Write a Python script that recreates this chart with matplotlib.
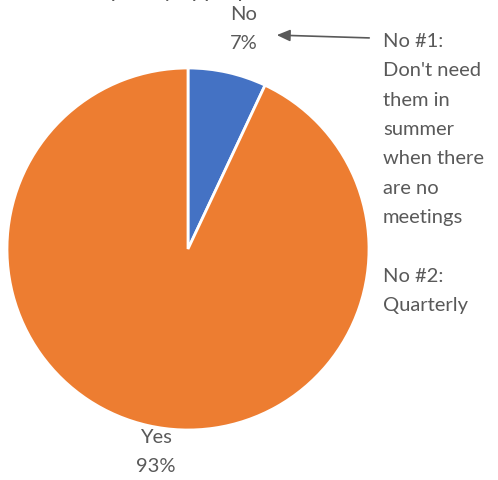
import matplotlib
matplotlib.use("Agg")
import matplotlib.pyplot as plt

labels = ["No", "Yes"]
shares = [7, 93]
colors = ["#4472C4", "#ED7D31"]
note = "No #1:\nDon't need\nthem in\nsummer\nwhen there\nare no\nmeetings\n\nNo #2:\nQuarterly"

W, H = 498, 480
plt.rcParams["font.family"] = ["Lato", "DejaVu Sans"]
txt = "#595959"

fig = plt.figure(figsize=(W / 100, H / 100), dpi=100)

# pie axes placed in pixel terms: centre (188, 249), radius 181
cx, cy, r = 188, 249, 181
ax = fig.add_axes([(cx - r) / W, (H - cy - r) / H, 2 * r / W, 2 * r / H])
ax.pie(shares, colors=colors, startangle=90, counterclock=False,
       wedgeprops=dict(edgecolor="white", linewidth=2))
ax.set_xlim(-1, 1)
ax.set_ylim(-1, 1)
ax.set_aspect("auto")
ax.axis("off")

def px(x, y):
    return x / W, 1 - y / H

# title, mostly above the top edge as in the reference
fig.text(*px(160, -9), "Is the frequency appropriate?", ha="center", va="center",
         fontsize=16, color=txt)

fig.text(*px(244, 29), f"{labels[0]}\n{shares[0]}%", ha="center", va="center",
         fontsize=14.5, color=txt, linespacing=1.85)
fig.text(*px(156, 452), f"{labels[1]}\n{shares[1]}%", ha="center", va="center",
         fontsize=14.5, color=txt, linespacing=1.85)

fig.text(*px(383, 33), note, ha="left", va="top", fontsize=14.5, color=txt,
         linespacing=1.88)

ax2 = fig.add_axes([0, 0, 1, 1], facecolor="none")
ax2.set_xlim(0, W)
ax2.set_ylim(H, 0)
ax2.axis("off")
ax2.annotate("", xy=(274, 35), xytext=(372, 38),
             arrowprops=dict(arrowstyle="-|>,head_length=0.8,head_width=0.35",
                             color="#595959", lw=1.2))

fig.savefig("out.png", dpi=100)
